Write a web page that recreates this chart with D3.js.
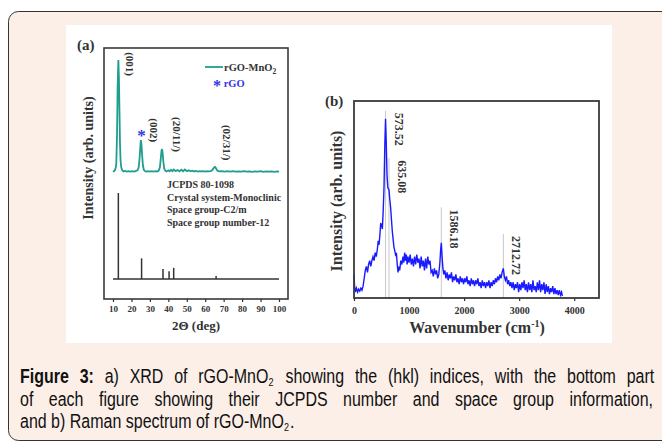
<!DOCTYPE html>
<html>
<head>
<meta charset="UTF-8">
<script src="https://d3js.org/d3.v7.min.js"></script>
<style>
  body { margin: 0; background: #ffffff; }
  svg text { font-family: 'Liberation Serif', 'Times New Roman', serif; font-weight: bold; }
  svg text.cap { font-family: 'Liberation Sans', Arial, sans-serif; font-weight: normal; }
</style>
</head>
<body>
<svg id="fig" width="662" height="445"></svg>
<script>
// ---- data: (a) XRD of rGO-MnO2 ----
var xrdAngle = [10, 10.5, 11, 11.5, 11.8, 12.2, 12.5, 12.9, 13.2, 13.5, 13.8, 14.1, 14.5, 15, 15.7, 16.5, 17.5, 18.5, 19.5, 20.5,
  21.5, 22.5, 23.3, 23.9, 24.4, 24.8, 25.1, 25.4, 25.8, 26.2, 26.7, 27.3, 28, 29, 30, 31, 32, 33, 34, 34.8,
  35.4, 35.9, 36.3, 36.6, 36.9, 37.3, 37.8, 38.4, 39, 40, 40.7, 41.5, 42.3, 43, 44, 45, 46, 47, 48, 49,
  50, 51, 52, 53, 54, 55, 56, 57, 58, 59, 60, 61, 62, 63, 64, 64.8, 65.3, 65.8, 66.5, 67.5,
  69, 70.5, 72, 73.5, 75, 76.5, 78, 79.5, 81, 82.5, 84, 85.5, 87, 88.5, 90, 91.5, 93, 94.5, 96, 97.5, 99, 100];
var xrdIntensity = [1, 0.5, 1.5, 4, 8, 35, 75, 100, 85, 55, 25, 10, 4, 1.5, 0.5, 1, 0.3, 0.8, 0.3, 0.8,
  0.4, 1, 1.5, 4, 12, 22, 28.5, 25, 15, 6, 2, 0.8, 0.3, 0.8, 0.3, 0.8, 0.4, 0.8, 0.5, 1.2,
  4, 12, 19, 20.5, 17, 9, 3, 1, 0.5, 1.5, 0.6, 2, 0.8, 2.2, 0.8, 1.8, 0.6, 2, 0.7, 2.2,
  0.7, 1.5, 0.6, 1.2, 0.5, 1, 0.4, 0.8, 0.5, 0.8, 0.4, 0.7, 0.5, 0.8, 2, 4, 4.5, 3.5, 1.2, 0.5,
  0.8, 0.3, 0.7, 0.3, 0.8, 0.3, 0.6, 0.3, 0.7, 0.3, 0.6, 0.2, 0.6, 0.3, 0.7, 0.2, 0.5, 0.3, 0.6, 0.2, 0.5, 0.3];
// JCPDS 80-1098 reference sticks
var refAngle = [12.9, 25.5, 37.1, 40.4, 42.9, 65.9];
var refIntensity = [100, 24, 11.5, 9, 13, 3.5];
// hkl labels: text and anchor (2theta, intensity of the upper pattern)
var hklLabels = ["(001)", "(002)", "(20/11/)", "(02/31/)"];
var hklAt = [[17.0, 107], [30.1, 48], [42.5, 49], [69.6, 42]];
var jcpdsLines = ["JCPDS 80-1098", "Crystal system-Monoclinic", "Space group-C2/m", "Space group number-12"];
var xTicksA = [10, 20, 30, 40, 50, 60, 70, 80, 90, 100];

// ---- data: (b) Raman spectrum ----
var ramanShift = [0, 10, 25, 45, 65, 85, 105, 125, 145, 165, 185, 205, 225, 245, 265, 285, 305, 325, 345, 365,
  385, 405, 425, 440, 455, 470, 485, 500, 515, 530, 545, 560, 573, 585, 600, 615, 635, 650, 665, 680,
  695, 710, 725, 740, 755, 770, 785, 800, 815, 830, 850, 870, 890, 905, 920, 935, 950, 965, 980, 1000,
  1020, 1040, 1060, 1080, 1100, 1120, 1140, 1160, 1180, 1200, 1220, 1240, 1260, 1280, 1300, 1320, 1340, 1360, 1380, 1400,
  1420, 1440, 1460, 1480, 1500, 1520, 1540, 1560, 1575, 1586, 1600, 1615, 1630, 1650, 1670, 1690, 1710, 1730, 1750, 1770,
  1790, 1810, 1830, 1850, 1870, 1890, 1910, 1930, 1950, 1970, 1990, 2010, 2030, 2050, 2070, 2090, 2110, 2130, 2150, 2170,
  2190, 2210, 2230, 2250, 2270, 2290, 2310, 2330, 2350, 2370, 2390, 2410, 2430, 2450, 2470, 2490, 2510, 2530, 2550, 2570,
  2590, 2610, 2630, 2650, 2670, 2690, 2712, 2730, 2750, 2770, 2790, 2810, 2830, 2850, 2870, 2890, 2910, 2930, 2950, 2970,
  2990, 3010, 3030, 3050, 3070, 3090, 3110, 3130, 3150, 3170, 3190, 3210, 3230, 3250, 3270, 3290, 3310, 3330, 3350, 3370,
  3390, 3410, 3430, 3450, 3470, 3490, 3510, 3530, 3550, 3570, 3590, 3610, 3630, 3650, 3670, 3690, 3710, 3730, 3750, 3770, 3785];
var ramanIntensity = [12, 6, 3, 5, 3, 4.5, 3.5, 5, 4, 6, 10, 14, 16, 13, 17, 19, 16, 19, 21, 19,
  23, 21, 25, 29, 27, 32, 38, 37, 35, 44, 56, 78, 91, 80, 62, 56, 55, 50, 46, 40,
  34, 30, 26, 24, 22, 23, 17, 13, 16, 14, 19, 17, 21, 18, 23, 19, 22, 17, 21, 18,
  22, 17, 20, 16, 21, 17, 22, 18, 20, 15, 21, 16, 19, 14, 20, 15, 21, 17, 19, 13,
  14, 11, 15, 12, 14, 10, 12, 18, 25, 28, 21, 15, 12, 14, 10, 13, 9, 12, 10, 13,
  8, 11, 9, 12, 8, 10, 7, 11, 8, 10, 7, 10, 8, 11, 7, 9, 6, 10, 7, 9,
  6, 9, 7, 10, 6, 8, 5, 9, 6, 8, 5, 8, 6, 9, 5, 8, 6, 9, 7, 10,
  8, 11, 9, 12, 10, 13, 15, 11, 9, 11, 7, 9, 6, 8, 5, 8, 4, 7, 5, 8,
  3, 7, 4, 8, 5, 9, 4, 7, 3, 8, 4, 7, 3, 9, 4, 6, 3, 8, 4, 9,
  3, 7, 4, 8, 2, 7, 3, 6, 2, 5, 3, 6, 2, 5, 2, 4, 1.5, 4, 1.5, 3, 1];
var ramanPeaks = [573.52, 635.08, 1586.18, 2712.72];
var ramanPeakTop = [95, 71, 46, 32.5];
var ramanPeakLabels = ["573.52", "635.08", "1586.18", "2712.72"];
var xTicksB = [0, 1000, 2000, 3000, 4000];

var svg = d3.select("#fig");

// page background, rounded caption box and white image area
svg.append("rect").attr("x", 0).attr("y", 0).attr("width", 662).attr("height", 445).attr("fill", "#ffffff");
svg.append("rect").attr("x", 8.5).attr("y", 11.5).attr("width", 700).attr("height", 429)
  .attr("rx", 10).attr("fill", "#fcefe8").attr("stroke", "#333").attr("stroke-width", 1);
svg.append("rect").attr("x", 66).attr("y", 25).attr("width", 546).attr("height", 318).attr("fill", "#fff");

// ================= panel (a) =================
var xA = d3.scaleLinear().domain([5.12, 104.88]).range([104, 288]);
var yA = d3.scaleLinear().domain([0, 100]).range([172, 60]);
var yRef = d3.scaleLinear().domain([0, 100]).range([279, 193]);
var gA = svg.append("g");

gA.append("rect").attr("x", 104).attr("y", 48).attr("width", 184).attr("height", 251)
  .attr("fill", "none").attr("stroke", "#3a3a3a").attr("stroke-width", 1.6);

var axA = gA.append("g").attr("transform", "translate(0,299)")
  .call(d3.axisBottom(xA).tickValues(xTicksA).tickSize(3).tickPadding(4));
axA.select(".domain").remove();
axA.selectAll("line").attr("stroke", "#333").attr("stroke-width", 1.2);
axA.selectAll("text").attr("font-size", 9).attr("fill", "#333");

var xrd = xrdAngle.map(function (a, i) { return [a, xrdIntensity[i]]; });
gA.append("path").datum(xrd)
  .attr("d", d3.line().x(function (d) { return xA(d[0]); }).y(function (d) { return yA(d[1]); }))
  .attr("fill", "none").attr("stroke", "#1f9e8f").attr("stroke-width", 1.8);

// reference pattern
gA.append("line").attr("x1", xA(10)).attr("x2", xA(100)).attr("y1", yRef(0)).attr("y2", yRef(0))
  .attr("stroke", "#333").attr("stroke-width", 1.4);
gA.selectAll(".stick").data(refAngle).enter().append("line")
  .attr("x1", function (d) { return xA(d); }).attr("x2", function (d) { return xA(d); })
  .attr("y1", yRef(0)).attr("y2", function (d, i) { return yRef(refIntensity[i]); })
  .attr("stroke", "#333").attr("stroke-width", 1.5);

// hkl labels
gA.selectAll(".hkl").data(hklLabels).enter().append("text")
  .attr("transform", function (d, i) { return "translate(" + xA(hklAt[i][0]) + "," + yA(hklAt[i][1]) + ") rotate(90)"; })
  .attr("font-size", 11).attr("fill", "#333").text(function (d) { return d; });

// rGO star on (002)
gA.append("text").attr("x", xA(25.2) + 0.5).attr("y", yA(28.5) + 1).attr("text-anchor", "middle")
  .attr("font-size", 17).attr("fill", "#3535e8").text("*");

// legend
gA.append("line").attr("x1", 205).attr("x2", 223).attr("y1", 67).attr("y2", 67)
  .attr("stroke", "#1f9e8f").attr("stroke-width", 1.8);
var lg = gA.append("text").attr("x", 224).attr("y", 70.5).attr("font-size", 10.5).attr("fill", "#333");
lg.append("tspan").text("rGO-MnO");
lg.append("tspan").attr("dy", 3).attr("font-size", 7.5).text("2");
var lg2 = gA.append("text").attr("x", 213).attr("y", 91).attr("font-size", 10.5).attr("fill", "#3535e8");
lg2.append("tspan").attr("font-size", 16).text("*");
lg2.append("tspan").attr("dy", -4).text(" rGO");

// JCPDS info
gA.selectAll(".info").data(jcpdsLines).enter().append("text")
  .attr("x", 167).attr("y", function (d, i) { return 188 + i * 12.7; })
  .attr("font-size", 10).attr("fill", "#333").text(function (d) { return d; });

// axis titles
gA.append("text").attr("transform", "translate(93,158) rotate(-90)").attr("text-anchor", "middle")
  .attr("font-size", 14).attr("fill", "#333").text("Intensity (arb. units)");
gA.append("text").attr("x", 196).attr("y", 330).attr("text-anchor", "middle")
  .attr("font-size", 13).attr("fill", "#333").text("2\u0398 (deg)");
gA.append("text").attr("x", 77).attr("y", 50).attr("font-size", 15).attr("fill", "#333").text("(a)");

// ================= panel (b) =================
var xB = d3.scaleLinear().domain([0, 4450]).range([354, 599]);
var yB = d3.scaleLinear().domain([0, 100]).range([298, 101]);
var gB = svg.append("g");

// peak marker lines
gB.selectAll(".mark").data(ramanPeaks).enter().append("line")
  .attr("x1", function (d) { return xB(d); }).attr("x2", function (d) { return xB(d); })
  .attr("y1", yB(0)).attr("y2", function (d, i) { return yB(ramanPeakTop[i]); })
  .attr("stroke", "#c8c8c8").attr("stroke-width", 1);

var raman = ramanShift.map(function (w, i) { return [w, ramanIntensity[i]]; });
gB.append("path").datum(raman)
  .attr("d", d3.line().x(function (d) { return xB(d[0]); }).y(function (d) { return yB(d[1]); }))
  .attr("fill", "none").attr("stroke", "#1a1aff").attr("stroke-width", 1.4);

gB.append("rect").attr("x", 354).attr("y", 101).attr("width", 245).attr("height", 197)
  .attr("fill", "none").attr("stroke", "#3a3a3a").attr("stroke-width", 1.8);

var axB = gB.append("g").attr("transform", "translate(0,298)")
  .call(d3.axisBottom(xB).tickValues(xTicksB).tickFormat(d3.format("d")).tickSize(3).tickPadding(6));
axB.select(".domain").remove();
axB.selectAll("line").attr("stroke", "#333").attr("stroke-width", 1.2);
axB.selectAll("text").attr("font-size", 10).attr("fill", "#333");

gB.selectAll(".plab").data(ramanPeakLabels).enter().append("text")
  .attr("transform", function (d, i) { return "translate(" + (xB(ramanPeaks[i]) + 9) + "," + (yB(ramanPeakTop[i]) + 2) + ") rotate(90)"; })
  .attr("font-size", 12).attr("fill", "#333").text(function (d) { return d; });

gB.append("text").attr("transform", "translate(342,201) rotate(-90)").attr("text-anchor", "middle")
  .attr("font-size", 16).attr("fill", "#333").text("Intensity (arb. units)");
var wl = gB.append("text").attr("x", 477).attr("y", 333).attr("text-anchor", "middle")
  .attr("font-size", 16).attr("fill", "#333");
wl.append("tspan").text("Wavenumber (cm");
wl.append("tspan").attr("dy", -6).attr("font-size", 10).text("-1");
wl.append("tspan").attr("dy", 6).text(")");
gB.append("text").attr("x", 325).attr("y", 106).attr("font-size", 15).attr("fill", "#333").text("(b)");

// ================= caption =================
var capScale = 0.82;
var cap = svg.append("g").attr("transform", "translate(20,0) scale(" + capScale + ",1)");
var capWidth = 633 / capScale;
function capLine(y, parts, justify) {
  var t = cap.append("text").attr("class", "cap").attr("y", y).attr("font-size", 19.5).attr("fill", "#111");
  parts.forEach(function (p) {
    var s = t.append("tspan").text(p.t);
    if (p.b) s.attr("font-weight", "bold");
    if (p.sub) s.attr("dy", 3).attr("font-size", 11);
    if (p.up) s.attr("dy", -3).attr("dx", 1.5);
  });
  if (justify) {
    var spaces = parts.map(function (p) { return p.t; }).join("").split(" ").length - 1;
    var ws = 0;
    for (var k = 0; k < 4; k++) {
      var len = t.node().getComputedTextLength();
      ws += (capWidth - len) / spaces;
      t.attr("word-spacing", ws);
    }
  }
}
capLine(383, [{ t: "Figure 3:", b: true }, { t: " a) XRD of rGO-MnO" }, { t: "2", sub: true },
  { t: " showing the (hkl) indices, with the bottom part", up: true }], true);
capLine(406.5, [{ t: "of each figure showing their JCPDS number and space group information," }], true);
capLine(428, [{ t: "and b) Raman spectrum of rGO-MnO" }, { t: "2", sub: true }, { t: ".", up: true }], false);
</script>
</body>
</html>
